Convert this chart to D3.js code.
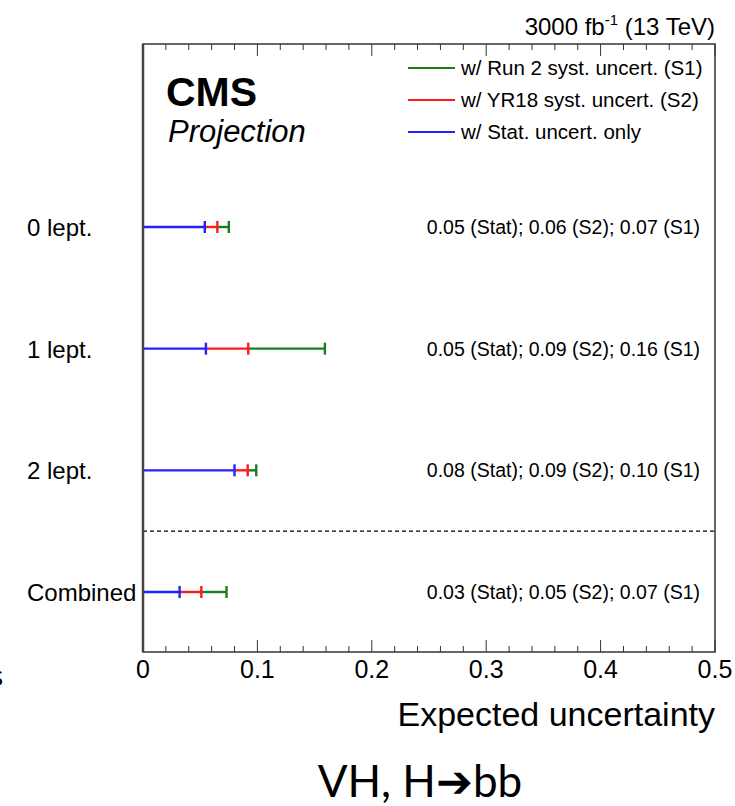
<!DOCTYPE html>
<html><head><meta charset="utf-8">
<script src="https://cdn.jsdelivr.net/npm/d3@7"></script>
<style>body{margin:0;background:#fff}svg{display:block}</style>
</head><body>
<script>
const categories = ["0 lept.", "1 lept.", "2 lept.", "Combined"];
const statVals = [0.054, 0.055, 0.080, 0.032];
const s2Vals   = [0.065, 0.092, 0.0915, 0.051];
const s1Vals   = [0.075, 0.159, 0.099, 0.073];
const annotations = [
  "0.05 (Stat); 0.06 (S2); 0.07 (S1)",
  "0.05 (Stat); 0.09 (S2); 0.16 (S1)",
  "0.08 (Stat); 0.09 (S2); 0.10 (S1)",
  "0.03 (Stat); 0.05 (S2); 0.07 (S1)"
];
const xTicks = [0, 0.1, 0.2, 0.3, 0.4, 0.5];
const legendLabels = ["w/ Run 2 syst. uncert. (S1)", "w/ YR18 syst. uncert. (S2)", "w/ Stat. uncert. only"];
const colors = {s1: "#1a7f1a", s2: "#ff1a1a", stat: "#2222ff"};

const W = 735, H = 806;
const L = 143, R = 715, T = 44, B = 652;
const svg = d3.select("body").append("svg").attr("width", W).attr("height", H);
const font = "'Liberation Sans', Arial, Helvetica, sans-serif";

const x = d3.scaleLinear().domain([0, 0.5]).range([L, R]);
const y = d3.scalePoint().domain(categories).range([227, 592]);

// frame
svg.append("rect").attr("x", L).attr("y", T).attr("width", R - L).attr("height", B - T)
  .attr("fill", "none").attr("stroke", "#333").attr("stroke-width", 1.5);

// ticks bottom and top
const minor = d3.range(0, 0.5001, 0.02);
[B, T].forEach((yy, i) => {
  const dir = i === 0 ? -1 : 1;
  svg.append("g").selectAll("line").data(minor).join("line")
    .attr("x1", d => x(d)).attr("x2", d => x(d))
    .attr("y1", yy).attr("y2", d => {
      const major = Math.abs(d * 10 - Math.round(d * 10)) < 1e-6;
      return yy + dir * (major ? 12 : 6);
    })
    .attr("stroke", "#333").attr("stroke-width", 1);
});

svg.append("g").selectAll("text").data(xTicks).join("text")
  .attr("x", d => x(d)).attr("y", 678).attr("text-anchor", "middle")
  .attr("font-family", font).attr("font-size", 25).attr("fill", "#000")
  .text(d => d === 0 ? "0" : d3.format(".1f")(d));

svg.append("text").attr("x", R).attr("y", 726).attr("text-anchor", "end")
  .attr("font-family", font).attr("font-size", 34).text("Expected uncertainty");

// header
const hdr = svg.append("text").attr("x", R).attr("y", 35).attr("text-anchor", "end")
  .attr("font-family", font).attr("font-size", 24);
hdr.append("tspan").text("3000 fb");
hdr.append("tspan").attr("dy", -10).attr("font-size", 15).text("-1");
hdr.append("tspan").attr("dy", 10).text(" (13 TeV)");

// CMS
svg.append("text").attr("x", 166).attr("y", 106).attr("font-family", font)
  .attr("font-weight", "bold").attr("font-size", 41).text("CMS");
svg.append("text").attr("x", 168).attr("y", 142).attr("font-family", font)
  .attr("font-style", "italic").attr("font-size", 31).text("Projection");

// legend
const legColors = [colors.s1, colors.s2, colors.stat];
legendLabels.forEach((t, i) => {
  const yy = 68 + i * 32;
  svg.append("line").attr("x1", 408).attr("x2", 455).attr("y1", yy).attr("y2", yy)
    .attr("stroke", legColors[i]).attr("stroke-width", 2);
  svg.append("text").attr("x", 461).attr("y", yy + 7).attr("font-family", font)
    .attr("font-size", 20.5).text(t);
});

// category labels
svg.append("g").selectAll("text").data(categories).join("text")
  .attr("x", 27).attr("y", d => y(d) + 9).attr("font-family", font)
  .attr("font-size", 24).text(d => d);

// annotations
svg.append("g").selectAll("text").data(annotations).join("text")
  .attr("x", 700).attr("y", (d, i) => y(categories[i]) + 7).attr("text-anchor", "end")
  .attr("font-family", font).attr("font-size", 19.5).text(d => d);

// dashed separator
const sepY = (y(categories[2]) + y(categories[3])) / 2;
svg.append("line").attr("x1", L).attr("x2", R).attr("y1", sepY).attr("y2", sepY)
  .attr("stroke", "#000").attr("stroke-width", 1.2).attr("stroke-dasharray", "4,3");

// error bars
const cap = 6;
function drawBars(vals, color, startVals) {
  const g = svg.append("g");
  categories.forEach((c, i) => {
    const yy = y(c);
    const x0 = startVals ? x(startVals[i]) : x(0);
    g.append("line").attr("x1", x0).attr("x2", x(vals[i])).attr("y1", yy).attr("y2", yy)
      .attr("stroke", color).attr("stroke-width", 2.4);
    g.append("line").attr("x1", x(vals[i])).attr("x2", x(vals[i])).attr("y1", yy - cap).attr("y2", yy + cap)
      .attr("stroke", color).attr("stroke-width", 2.4);
  });
}
drawBars(s1Vals, colors.s1, s2Vals);
drawBars(s2Vals, colors.s2, statVals);
drawBars(statVals, colors.stat, null);

// left frame edge on top
svg.append("line").attr("x1", L).attr("x2", L).attr("y1", T).attr("y2", B)
  .attr("stroke", "#444").attr("stroke-width", 2.5);

// partial glyph at left edge
svg.append("text").attr("x", -10).attr("y", 686).attr("font-family", "'Open Sans', sans-serif")
  .attr("font-size", 28).text("s");

// bottom title
svg.append("text").attr("x", 420).attr("y", 797).attr("text-anchor", "middle")
  .attr("font-family", "Lato, 'Open Sans', sans-serif").attr("font-size", 44).text("VH, H➔bb");
</script>
</body></html>
